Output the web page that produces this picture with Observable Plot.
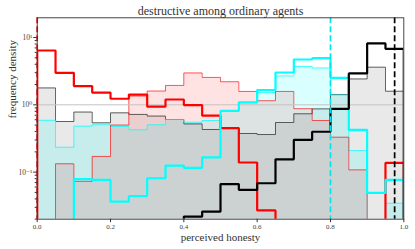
<!DOCTYPE html>
<html>
<head>
<meta charset="utf-8">
<script src="https://cdn.jsdelivr.net/npm/d3@7"></script>
<script src="https://cdn.jsdelivr.net/npm/@observablehq/plot@0.6"></script>
<style>
  html, body { margin: 0; padding: 0; background: #fff; }
  #chart svg { display: block; }
</style>
</head>
<body>
<div id="chart"></div>
<script>
// Bin left edges (bin width 0.05)
const binEdges = [0, 0.05, 0.1, 0.15, 0.2, 0.25, 0.3, 0.35, 0.4, 0.45,
                  0.5, 0.55, 0.6, 0.65, 0.7, 0.75, 0.8, 0.85, 0.9, 0.95];
const xEnd = 1.0;

// Series values (frequency density per bin)
const redThick   = [6.41, 2.99, 1.90, 1.52, 1.23, 1.42, 0.94, 1.20, 0.99, 0.69,
                    0.45, 0.139, 0.027, 0, 0, 0, 0, 0, 0, 0.137];
const redFill    = [0, 0.133, 0.073, 0.171, 0.50, 1.35, 1.60, 1.94, 2.97, 2.55,
                    2.20, 1.58, 1.15, 1.58, 0.875, 0.585, 0.33, 0.108, 0, 0];
const grayFill   = [1.78, 0.565, 0.78, 0.54, 0.76, 0.72, 0.68, 0.605, 0.52, 0.43,
                    0.46, 0.375, 0.362, 0.546, 0.735, 0.87, 1.42, 2.42, 3.62, 1.59];
const cyanFill   = [0.588, 0.234, 0.481, 0.505, 0.476, 0.425, 0.505, 0.605, 0.551, 0.585,
                    0.80, 1.08, 1.52, 2.68, 3.71, 3.52, 1.40, 0.209, 0, 0.0345];
const cyanThick  = [0, 0, 0.079, 0.077, 0.0366, 0.0442, 0.0812, 0.125, 0.116, 0.166,
                    0.81, 1.09, 1.66, 3.02, 4.71, 4.93, 2.52, 0.425, 0.0492, 0.0769];
const blackThick = [0, 0, 0, 0, 0, 0, 0, 0, 0.0219, 0.026,
                    0.0665, 0.0546, 0.0684, 0.155, 0.302, 0.398, 0.872, 2.92, 8.15, 6.79];

// Vertical dashed markers
const markerX = [0, 0.8, 0.975];
const markerColor = ["#ff0000", "#00e5ee", "#000000"];

// Tick labels
const xTicks = [0, 0.2, 0.4, 0.6, 0.8, 1.0];
const yMajor = [0.1, 1, 10];
const yMajorLabels = ["10\u207B\u00B9", "10\u2070", "10\u00B9"];
const yMinor = [0.02,0.03,0.04,0.05,0.06,0.07,0.08,0.09,
                0.2,0.3,0.4,0.5,0.6,0.7,0.8,0.9,
                2,3,4,5,6,7,8,9];

const titleText = "destructive among ordinary agents";
const xLabel = "perceived honesty";
const yLabel = "frequency density";

const FLOOR = 1e-3; // zero bins drop below the log axis (clipped)

function steps(vals) {
  const pts = [{x: binEdges[0], y: FLOOR}];
  vals.forEach((v, i) => pts.push({x: binEdges[i], y: v > 0 ? v : FLOOR}));
  const last = vals[vals.length - 1];
  pts.push({x: xEnd, y: last > 0 ? last : FLOOR});
  pts.push({x: xEnd, y: FLOOR});
  return pts;
}

const lineOpts = {x: "x", y: "y", curve: "step-after", clip: true,
                  strokeLinejoin: "miter", strokeLinecap: "butt"};
const areaOpts = {x: "x", y1: () => FLOOR, y2: "y", curve: "step-after", clip: true};

const plot = Plot.plot({
  width: 415,
  height: 249,
  marginLeft: 36.7,
  marginRight: 11.7,
  marginTop: 17.3,
  marginBottom: 30.3,
  style: {fontFamily: "'Liberation Serif', 'DejaVu Serif', serif", fontSize: "7px", background: "#fff", color: "#333"},
  x: {domain: [0, 1]},
  y: {type: "log", domain: [0.02, 19.6]},
  marks: [
    // filled histograms
    Plot.areaY(steps(grayFill), {...areaOpts, fill: "#000", fillOpacity: 0.085}),
    Plot.areaY(steps(cyanFill), {...areaOpts, fill: "#00ffff", fillOpacity: 0.15}),
    Plot.areaY(steps(redFill),  {...areaOpts, fill: "#ff0000", fillOpacity: 0.11}),
    // thin edges
    Plot.line(steps(grayFill), {...lineOpts, stroke: "#333", strokeOpacity: 0.85, strokeWidth: 0.9}),
    Plot.line(steps(cyanFill), {...lineOpts, stroke: "#00ffff", strokeOpacity: 0.7, strokeWidth: 1}),
    Plot.line(steps(redFill),  {...lineOpts, stroke: "#ff0000", strokeOpacity: 0.7, strokeWidth: 0.9}),
    // reference line at 1
    Plot.ruleY([1], {stroke: "#c4c4c4", strokeWidth: 1}),
    // thick step lines
    Plot.line(steps(redThick),   {...lineOpts, stroke: "#ff0000", strokeWidth: 2.2}),
    Plot.line(steps(cyanThick),  {...lineOpts, stroke: "#00ffff", strokeWidth: 2.2}),
    Plot.line(steps(blackThick), {...lineOpts, stroke: "#000", strokeWidth: 2.2}),
    // dashed markers
    Plot.ruleX(markerX, {x: d => d, stroke: (d, i) => markerColor[i], strokeWidth: 1.7, strokeDasharray: "6,3"}),
    Plot.frame({stroke: "#333", strokeWidth: 0.9}),
    // axes
    Plot.axisX({ticks: xTicks, tickFormat: d3.format(".1f"), tickSize: 3.5, tickPadding: 1, label: null, stroke: "#333", fill: "#444"}),
    Plot.axisY({ticks: yMajor, tickFormat: d => yMajorLabels[yMajor.indexOf(d)], tickSize: 3.5, tickPadding: 1.5, label: null, stroke: "#333", fill: "#444", fontSize: 7.5}),
    Plot.axisY({ticks: yMinor, tickFormat: () => "", tickSize: 2, label: null, stroke: "#333"}),
    // titles
    Plot.text([titleText], {frameAnchor: "top", lineAnchor: "middle", dy: -6.5, fontSize: 12, fill: "#333"}),
    Plot.text([xLabel], {frameAnchor: "bottom", lineAnchor: "middle", dy: 18.5, fontSize: 11, fill: "#333"}),
    Plot.text([yLabel], {frameAnchor: "left", dx: -25, rotate: -90, fontSize: 11, fill: "#333"})
  ]
});

document.getElementById("chart").appendChild(plot);
</script>
</body>
</html>
